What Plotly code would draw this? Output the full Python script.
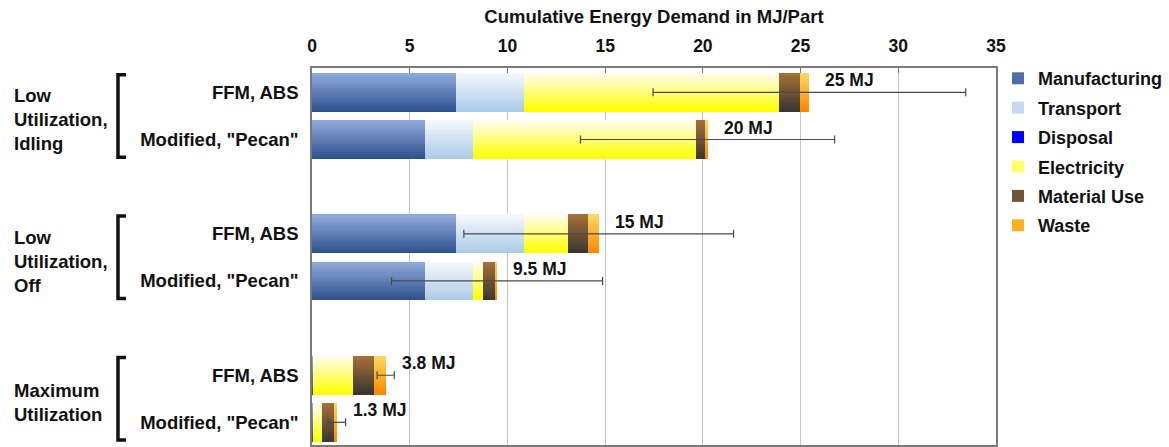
import plotly.graph_objects as go

# Scenario rows (top to bottom) and their slot positions on the y axis
row_labels = ["FFM, ABS", "Modified, \"Pecan\"", "FFM, ABS", "Modified, \"Pecan\"",
              "FFM, ABS", "Modified, \"Pecan\""]
row_pos = [0, 1, 3, 4, 6, 7]

group_labels = ["Low<br>Utilization,<br>Idling", "Low<br>Utilization,<br>Off",
                "Maximum<br>Utilization"]
group_pos = [0.5, 3.5, 6.5]

# Energy demand per life-cycle stage, MJ/part
categories = ["Manufacturing", "Transport", "Disposal", "Electricity", "Material Use", "Waste"]
manufacturing = [7.37, 5.80, 7.37, 5.80, 0.05, 0.05]
transport = [3.46, 2.46, 3.46, 2.46, 0.0, 0.0]
disposal = [0.0, 0.0, 0.0, 0.0, 0.0, 0.0]
electricity = [13.07, 11.37, 2.25, 0.47, 2.07, 0.45]
material_use = [1.05, 0.53, 1.02, 0.66, 1.03, 0.63]
waste = [0.50, 0.08, 0.57, 0.08, 0.62, 0.14]

# Uncertainty on the total (+/- MJ)
total_error = [8.0, 6.5, 6.9, 5.4, 0.44, 0.45]

series = [manufacturing, transport, disposal, electricity, material_use, waste]

# (top colour, bottom colour) of each segment's vertical gradient, and legend swatch
grad_colors = [
    ((143, 170, 220), (47, 82, 143)),
    ((244, 248, 253), (172, 203, 232)),
    ((0, 0, 255), (0, 0, 255)),
    ((255, 253, 238), (255, 255, 0)),
    ((164, 112, 56), (58, 54, 50)),
    ((255, 214, 96), (255, 138, 0)),
]
legend_colors = ["#4F6EAA", "#C5D9F1", "#0000FF", "#FFFF66", "#6E5537", "#FFB020"]

FONT = "Liberation Sans, Arial, sans-serif"
BAR_W = 0.82
N_BANDS = 18


def mix(c0, c1, t):
    return "rgb({},{},{})".format(*[round(a + (b - a) * t) for a, b in zip(c0, c1)])


fig = go.Figure()

# stacked segments: cumulative starting points for each row
starts = []
acc = [0.0] * len(row_pos)
for vals in series:
    starts.append(list(acc))
    acc = [a + v for a, v in zip(acc, vals)]
totals = acc

for name, vals, base, (c_top, c_bot), lc in zip(categories, series, starts, grad_colors, legend_colors):
    # gradient: each band starts lower and runs to the bar's bottom edge
    for k in range(N_BANDS):
        t = k / (N_BANDS - 1)
        off = -BAR_W / 2 + k * BAR_W / N_BANDS
        fig.add_trace(go.Bar(
            x=vals, y=row_pos, base=base, orientation="h",
            offset=off, width=BAR_W / 2 - off,
            marker=dict(color=mix(c_top, c_bot, t), line=dict(width=0)),
            showlegend=False, hoverinfo="skip", legendgroup=name,
        ))
    # legend entry
    fig.add_trace(go.Bar(
        x=[None], y=[None], orientation="h", name=name, legendgroup=name,
        marker=dict(color=lc, line=dict(width=0)),
    ))

# error bars on the totals
fig.add_trace(go.Scatter(
    x=totals, y=row_pos, mode="markers",
    marker=dict(size=1, color="rgba(0,0,0,0)"),
    error_x=dict(type="data", array=total_error, color="#4a4a4a", thickness=1.2, width=4),
    showlegend=False, hoverinfo="skip",
))

annotations = []
for tot, p in zip(totals, row_pos):
    txt = f"{tot:.0f} MJ" if tot >= 10 else f"{tot:.1f} MJ"
    annotations.append(dict(
        x=tot, y=p, xref="x", yref="y", text=txt, showarrow=False,
        xanchor="left", yanchor="middle", xshift=14, yshift=12,
        font=dict(family=FONT, size=17.5, color="#111111"),
    ))

X0_PX, PLOT_W = 312, 684  # plot area left edge and width in pixels
for lbl, gp in zip(group_labels, group_pos):
    annotations.append(dict(
        x=(12 - X0_PX) / PLOT_W, y=gp, xref="paper", yref="y", text=lbl,
        showarrow=False, xanchor="left", yanchor="middle", align="left", yshift=-4,
        font=dict(family=FONT, size=18.5, color="#111111"),
    ))

shapes = []
bx0 = (118 - X0_PX) / PLOT_W
bx1 = (126 - X0_PX) / PLOT_W
for gp in group_pos:
    y0, y1 = gp - 0.875, gp + 0.875
    shapes.append(dict(
        type="path", xref="paper", yref="y",
        path=f"M {bx1},{y0} L {bx0},{y0} L {bx0},{y1} L {bx1},{y1}",
        line=dict(color="#111111", width=3.5),
    ))

fig.update_layout(
    width=1169, height=447,
    margin=dict(l=X0_PX, r=1169 - X0_PX - PLOT_W, t=68, b=0),
    paper_bgcolor="white", plot_bgcolor="white",
    barmode="overlay", bargap=0,
    font=dict(family=FONT, color="#111111"),
    showlegend=True,
    legend=dict(
        x=(998 - X0_PX) / PLOT_W, xanchor="left", y=1.021, yanchor="top",
        font=dict(family=FONT, size=18, color="#111111"),
        tracegroupgap=3, itemwidth=30, bgcolor="rgba(0,0,0,0)",
    ),
    xaxis=dict(
        side="top", range=[0, 35], dtick=5, tick0=0,
        title=dict(text="<b>Cumulative Energy Demand in MJ/Part</b>", standoff=8,
                   font=dict(family=FONT, size=18.5, color="#111111")),
        tickfont=dict(family=FONT, size=17.5, color="#111111"),
        tickprefix="<b>", ticksuffix="</b>", ticklabelstandoff=7,
        showgrid=True, gridcolor="#c4c4c4", gridwidth=1,
        ticks="inside", ticklen=5, tickcolor="#7a7a7a",
        showline=True, linecolor="#7a7a7a", linewidth=1.5, mirror=True,
        zeroline=False, fixedrange=True,
    ),
    yaxis=dict(
        range=[7.48, -0.517],
        tickvals=row_pos, ticktext=[f"<b>{t}</b>" for t in row_labels],
        tickfont=dict(family=FONT, size=18.5, color="#111111"),
        ticks="", ticklabelstandoff=8,
        showgrid=False, zeroline=False,
        showline=True, linecolor="#7a7a7a", linewidth=1.5, mirror=True,
        fixedrange=True,
    ),
    annotations=annotations,
    shapes=shapes,
)

for a in fig.layout.annotations:
    a.text = f"<b>{a.text}</b>"
for tr in fig.data:
    if tr.name:
        tr.name = f"<b>{tr.name}</b>"

fig.write_html("out.html")
